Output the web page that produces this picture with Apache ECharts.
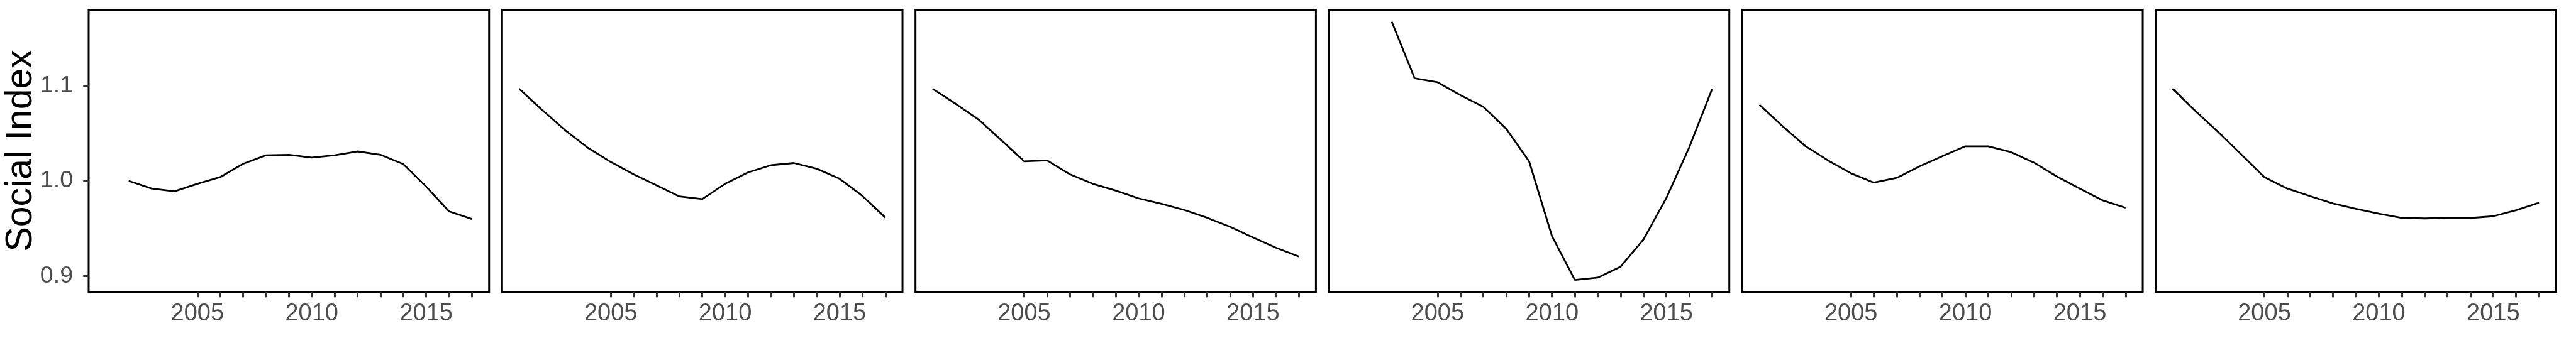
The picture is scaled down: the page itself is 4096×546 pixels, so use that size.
<!DOCTYPE html>
<html>
<head>
<meta charset="utf-8">
<script src="https://cdn.jsdelivr.net/npm/echarts@6/dist/echarts.min.js"></script>
<style>html,body{margin:0;padding:0;background:#fff;}#c{width:4096px;height:546px;}</style>
</head>
<body>
<div id="c"></div>
<script>
// ---- data ----
var years = [2001,2002,2003,2004,2005,2006,2007,2008,2009,2010,2011,2012,2013,2014,2015,2016,2017];
var panel1 = [null,1.000,0.992,0.989,0.997,1.004,1.018,1.027,1.0275,1.0245,1.027,1.031,1.0275,1.0176,0.994,0.968,0.960];
var panel2 = [1.0967,1.0745,1.0534,1.0348,1.0199,1.0069,0.9954,0.9837,0.981,0.997,1.0089,1.0165,1.0188,1.0128,1.0023,0.9842,0.9615];
var panel3 = [1.0967,1.0811,1.0646,1.0428,1.0206,1.0215,1.0069,0.997,0.9899,0.9817,0.976,0.9695,0.9613,0.9519,0.9407,0.9299,0.9207];
var panel4 = [null,null,1.167,1.1077,1.1036,1.090,1.0779,1.0548,1.0206,0.942,0.896,0.8985,0.910,0.9386,0.9821,1.0353,1.0967];
var panel5 = [1.080,1.0577,1.0367,1.0215,1.008,0.9982,1.0032,1.0153,1.0261,1.0364,1.0364,1.0302,1.0192,1.0046,0.992,0.9796,0.9718];
var panel6 = [1.0967,1.0731,1.0509,1.0275,1.0039,0.992,0.984,0.9764,0.9707,0.9656,0.9611,0.9606,0.9611,0.9611,0.9629,0.9693,0.9771];
var panels = [panel1, panel2, panel3, panel4, panel5, panel6];
var xTickValues = [2005,2006,2007,2008,2009,2010,2011,2012,2013,2014,2015,2016,2017];
var xLabelValues = [2005,2010,2015];
var yTickValues = [0.9,1.0,1.1];
var yTitle = 'Social Index';

// ---- layout ----
var S = 0.758;
var FONT = '"Liberation Sans", Arial, Helvetica, sans-serif';
var grids = [], xAxes = [], yAxes = [], series = [];
for (var i = 0; i < panels.length; i++) {
  grids.push({
    left: (186 + i * 867.2) * S,
    top: 20.3 * S,
    width: 840 * S,
    height: (613 - 20.3) * S,
    show: true,
    borderColor: '#000',
    borderWidth: 3,
    backgroundColor: 'transparent',
    containLabel: false
  });
  xAxes.push({
    type: 'value', gridIndex: i, min: 2000.25, max: 2017.75,
    axisLine: {show: false},
    splitLine: {show: false},
    axisTick: {show: true, inside: false, length: 8.7, customValues: xTickValues,
      lineStyle: {color: '#333333', width: 3}},
    axisLabel: {show: true, customValues: xLabelValues, margin: 16,
      color: '#4D4D4D', fontSize: 38, fontFamily: FONT,
      formatter: function (v) { return String(Math.round(v)); }}
  });
  yAxes.push({
    type: 'value', gridIndex: i, min: 0.8835, max: 1.1798,
    axisLine: {show: false},
    splitLine: {show: false},
    axisTick: {show: i === 0, inside: false, length: 8.7, customValues: yTickValues,
      lineStyle: {color: '#333333', width: 3}},
    axisLabel: {show: i === 0, customValues: yTickValues, margin: 25,
      color: '#4D4D4D', fontSize: 37.5, fontFamily: FONT,
      formatter: function (v) { return v.toFixed(1); }}
  });
  series.push({
    type: 'line', xAxisIndex: i, yAxisIndex: i,
    data: years.map(function (y, k) { return [y, panels[i][k]]; }).filter(function (d) { return d[1] !== null; }),
    showSymbol: false, symbol: 'none', smooth: false,
    lineStyle: {color: '#000', width: 2.8},
    silent: true, animation: false
  });
}

var chart = echarts.init(document.getElementById('c'), null, {renderer: 'canvas'});
chart.setOption({
  animation: false,
  backgroundColor: '#ffffff',
  grid: grids,
  xAxis: xAxes,
  yAxis: yAxes,
  series: series,
  graphic: [{
    type: 'text',
    x: 33.4, y: 316.5 * S,
    rotation: Math.PI / 2,
    style: {text: yTitle, fill: '#000', font: '59px ' + FONT, textAlign: 'center', textVerticalAlign: 'middle'}
  }]
});
</script>
</body>
</html>
